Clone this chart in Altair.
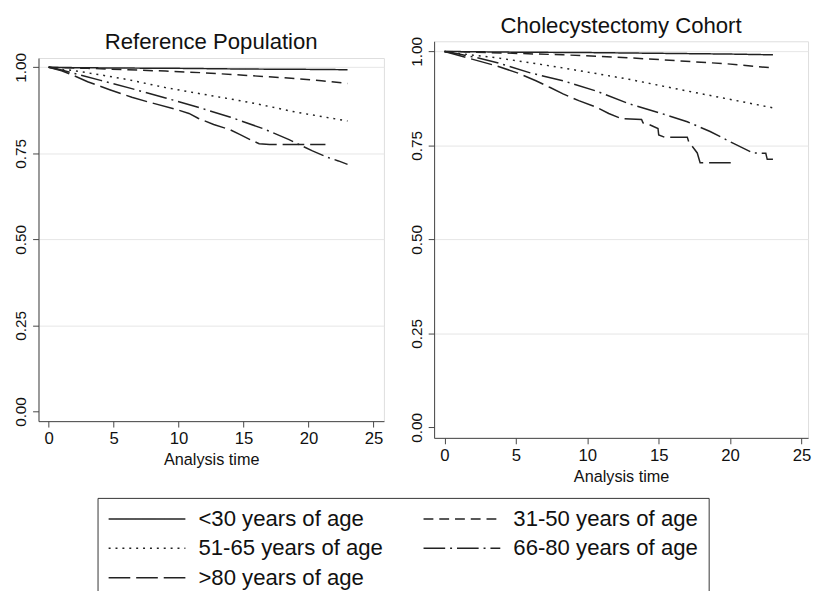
import altair as alt
import pandas as pd

groups = ["<30 years of age", "31-50 years of age", "51-65 years of age",
          "66-80 years of age", ">80 years of age"]
dashes = [[1, 0], [10, 6], [2, 5], [22, 5, 2, 5], [22, 6]]

# Reference Population (left panel)
ref_t_u30 = [0, 2, 5, 10, 15, 20, 23]
ref_s_u30 = [1.0, 0.999, 0.998, 0.997, 0.995, 0.994, 0.993]
ref_t_31 = [0, 3, 6, 9, 12, 15, 18, 21, 23]
ref_s_31 = [1.0, 0.997, 0.993, 0.989, 0.984, 0.977, 0.970, 0.961, 0.953]
ref_t_51 = [0, 2, 4, 6, 9, 12, 14, 16, 19, 21, 23]
ref_s_51 = [1.0, 0.990, 0.978, 0.965, 0.941, 0.921, 0.908, 0.894, 0.870, 0.857, 0.844]
ref_t_66 = [0, 1, 2, 4, 6.4, 9, 11.5, 14, 16.5, 18.5, 20.3, 21.5, 22.3, 23]
ref_s_66 = [1.0, 0.992, 0.982, 0.962, 0.938, 0.911, 0.884, 0.855, 0.822, 0.790, 0.757, 0.738, 0.728, 0.718]
ref_t_80 = [0, 1, 2, 3, 4.7, 6.4, 7.7, 9.7, 10.8, 11.5, 12.7, 14, 14.7, 15.5, 16.2, 17, 21.3]
ref_s_80 = [1.0, 0.990, 0.975, 0.958, 0.935, 0.913, 0.899, 0.879, 0.866, 0.852, 0.834, 0.818, 0.805, 0.790, 0.778, 0.776, 0.776]

# Cholecystectomy Cohort (right panel)
chol_t_u30 = [0, 5, 10, 15, 20, 23]
chol_s_u30 = [1.0, 0.998, 0.997, 0.995, 0.993, 0.991]
chol_t_31 = [0, 4, 8.3, 12, 15.2, 19.8, 23]
chol_s_31 = [1.0, 0.996, 0.991, 0.985, 0.978, 0.967, 0.956]
chol_t_51 = [0, 2, 3.7, 6, 8.3, 10.5, 12.9, 15, 17.5, 19.8, 23]
chol_s_51 = [1.0, 0.990, 0.983, 0.970, 0.956, 0.942, 0.926, 0.910, 0.891, 0.874, 0.850]
chol_t_66 = [0, 1, 2.3, 3.7, 6, 8.3, 10.6, 12.9, 15.2, 17, 18.6, 20.2, 21.6, 22.5, 22.6, 23]
chol_s_66 = [1.0, 0.993, 0.983, 0.970, 0.943, 0.922, 0.895, 0.861, 0.835, 0.813, 0.787, 0.756, 0.730, 0.729, 0.713, 0.713]
chol_t_80 = [0, 1.6, 3.7, 5.1, 6.4, 7.4, 8.3, 9.4, 10.6, 11.5, 12.4, 13.8, 13.9, 14.3, 14.95, 15.0, 15.4, 17.0, 17.1, 17.7, 17.9, 20.2]
chol_s_80 = [1.0, 0.983, 0.961, 0.943, 0.922, 0.904, 0.887, 0.869, 0.852, 0.835, 0.821, 0.819, 0.810, 0.806, 0.795, 0.778, 0.772, 0.772, 0.760, 0.730, 0.704, 0.704]


def build(series):
    rows = []
    for g, (ts, ss) in zip(groups, series):
        for i, (t, s) in enumerate(zip(ts, ss)):
            rows.append({"group": g, "t": t, "s": s, "i": i})
    return pd.DataFrame(rows)


ref_df = build([(ref_t_u30, ref_s_u30), (ref_t_31, ref_s_31), (ref_t_51, ref_s_51),
                (ref_t_66, ref_s_66), (ref_t_80, ref_s_80)])
chol_df = build([(chol_t_u30, chol_s_u30), (chol_t_31, chol_s_31), (chol_t_51, chol_s_51),
                 (chol_t_66, chol_s_66), (chol_t_80, chol_s_80)])

FONT = "Liberation Sans"

dash_scale = alt.Scale(domain=groups, range=dashes)
legend = alt.Legend(
    orient="none", legendX=60, legendY=464, columns=2, direction="horizontal",
    symbolType="M-1,0H6.8", symbolSize=400, symbolStrokeWidth=1.5,
    symbolStrokeColor="#222222", labelFontSize=22.5, labelFont=FONT,
    labelColor="#111111", labelOffset=70, columnPadding=37, rowPadding=7,
    padding=10, strokeColor="#333333", title=None, labelLimit=400,
)

yvals = [0, 0.25, 0.5, 0.75, 1.0]
xvals = [0, 5, 10, 15, 20, 25]


def panel(df, title, w, h, xdom):
    return alt.Chart(df, title=alt.Title(title, fontSize=22.5, font=FONT, fontWeight="normal",
                                         color="#111111", offset=-1)).mark_line(
        color="#222222", strokeWidth=1.5
    ).encode(
        x=alt.X("t:Q", scale=alt.Scale(domain=xdom, nice=False, zero=False),
                axis=alt.Axis(values=xvals, title="Analysis time", grid=False,
                              labelFont=FONT, labelFontSize=17, titleFont=FONT,
                              titleFontSize=16.5, titleFontWeight="normal", titlePadding=5,
                              tickSize=6, labelPadding=4, domainColor="#444444",
                              tickColor="#444444", labelColor="#111111", titleColor="#111111")),
        y=alt.Y("s:Q", scale=alt.Scale(domain=[-0.028, 1.027], nice=False, zero=False),
                axis=alt.Axis(values=yvals, format=".2f", title=None, grid=True,
                              gridColor="#e6e6e6",
                              gridOpacity=alt.condition("datum.value === 0", alt.value(0), alt.value(1)),
                              labelAngle=270, labelFont=FONT,
                              labelFontSize=15.5, tickSize=6, labelPadding=4,
                              domainColor="#444444", tickColor="#444444",
                              labelColor="#111111")),
        strokeDash=alt.StrokeDash("group:N", scale=dash_scale, legend=legend),
        order="i:Q",
        detail="group:N",
    ).properties(width=w, height=h)


left = panel(ref_df, "Reference Population", 351, 369, [-0.78, 25.8])
right = panel(chol_df, "Cholecystectomy Cohort", 380, 403, [-0.73, 25.46])

chart = alt.hconcat(left, right, spacing=24, center=True).properties(
    padding={"left": 5, "top": 2, "right": 0, "bottom": 0}
).configure_view(stroke="transparent").configure(background="white")

chart.save("out.html", embed_options={"renderer": "svg", "actions": False})
